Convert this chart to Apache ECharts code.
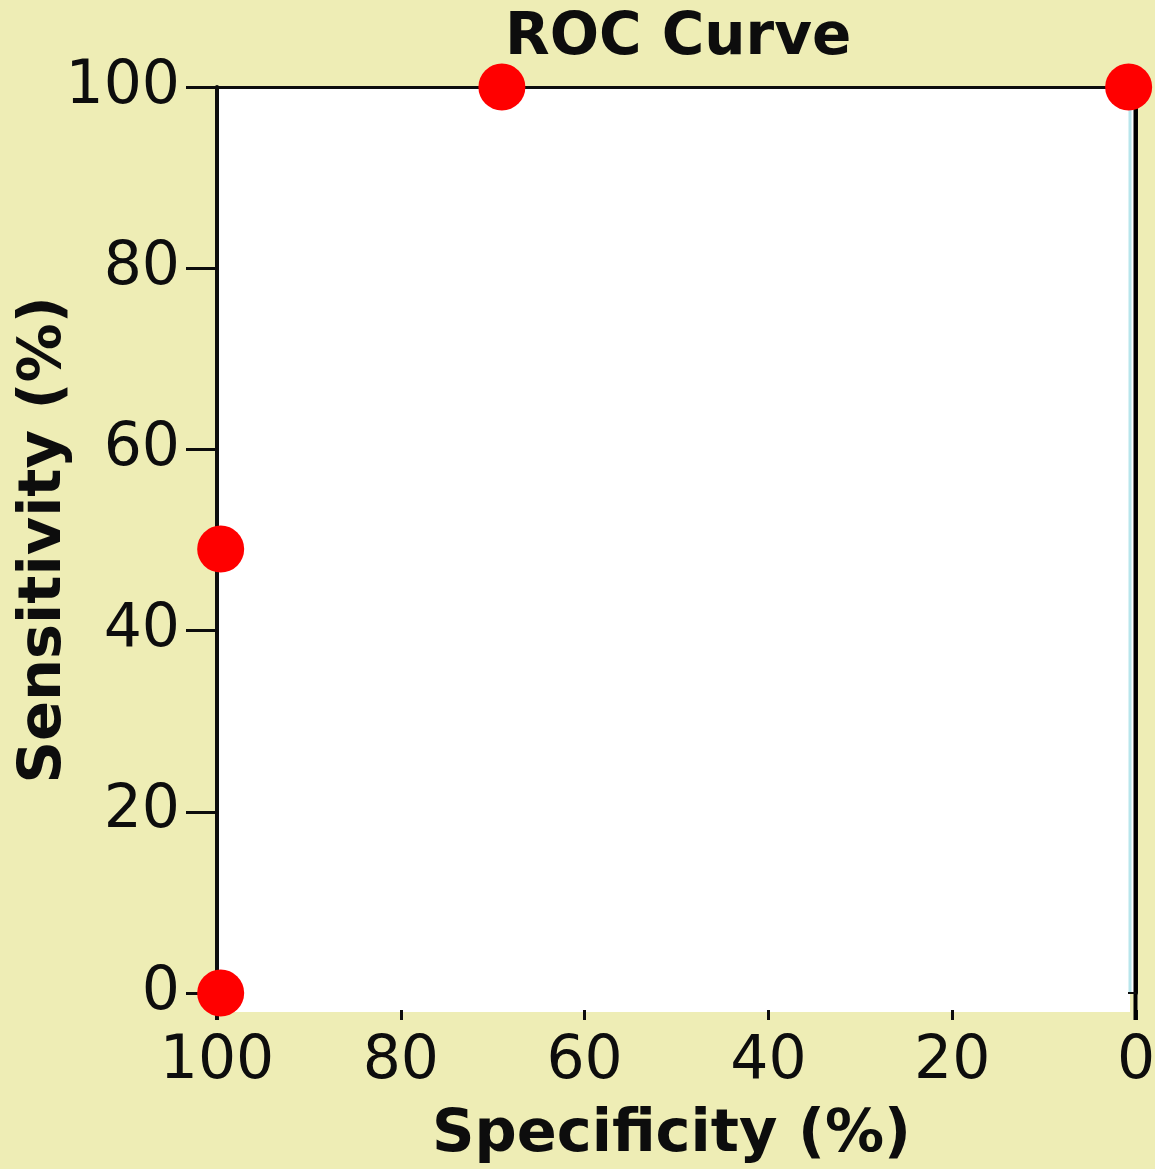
<!DOCTYPE html>
<html>
<head>
<meta charset="utf-8">
<title>ROC Curve</title>
<script src="https://cdn.jsdelivr.net/npm/echarts@6/dist/echarts.min.js"></script>
<style>
  html, body { margin: 0; padding: 0; background: #EEEDB5; }
  #chart { width: 1155px; height: 1169px; }
</style>
</head>
<body>
<div id="chart"></div>
<script>
// ROC operating points: specificity (%) vs sensitivity (%)
const specificity = [99.6, 99.6, 69, 0.8];
const sensitivity = [0, 49, 100, 100];
const axisTicks = [0, 20, 40, 60, 80, 100];

const points = specificity.map((s, i) => [s, sensitivity[i]]);

const ink = '#0d0d0d';
const labelFont = { fontFamily: 'DejaVu Sans', fontSize: 60, color: ink };
const titleFont = { fontFamily: 'DejaVu Sans', fontWeight: 'bold', fontSize: 58, color: ink };
const axisTitleFont = { fontFamily: 'DejaVu Sans', fontWeight: 'bold', fontSize: 59, color: ink };

const chart = echarts.init(document.getElementById('chart'), null, { renderer: 'canvas' });

chart.setOption({
  backgroundColor: '#EEEDB5',
  animation: false,
  title: {
    text: 'ROC Curve',
    left: 500,
    top: 5,
    textStyle: titleFont
  },
  grid: {
    left: 217, right: 19, top: 87, bottom: 176,
    containLabel: false,
    outerBoundsMode: 'none',
    show: true, backgroundColor: '#ffffff', borderWidth: 0
  },
  xAxis: [
    {
      type: 'value', inverse: true, min: 0, max: 100, interval: 20,
      position: 'bottom', offset: 27,
      axisLine: { show: false, onZero: false },
      axisTick: { show: true, inside: true, length: 10, lineStyle: { color: ink, width: 3 } },
      axisLabel: Object.assign({ margin: 12, formatter: v => axisTicks.includes(v) ? String(v) : '' }, labelFont),
      splitLine: { show: false },
      name: 'Specificity (%)', nameLocation: 'middle', nameGap: 86,
      nameMoveOverlap: false,
      nameTextStyle: Object.assign({ padding: [0, 10, 0, 0] }, axisTitleFont)
    },
    {
      type: 'value', inverse: true, min: 0, max: 100, position: 'top',
      axisLine: { show: true, onZero: false, lineStyle: { color: ink, width: 3 } },
      axisTick: { show: false }, axisLabel: { show: false }, splitLine: { show: false }
    }
  ],
  yAxis: [
    {
      type: 'value', min: 0, max: 100, interval: 20, position: 'left',
      axisLine: { show: true, onZero: false, lineStyle: { color: ink, width: 4 } },
      axisTick: { show: true, inside: false, length: 31, lineStyle: { color: ink, width: 3 } },
      axisLabel: Object.assign({ margin: 37 }, labelFont),
      splitLine: { show: false },
      name: 'Sensitivity (%)', nameLocation: 'middle', nameGap: 143, nameRotate: 90,
      nameMoveOverlap: false,
      nameTextStyle: axisTitleFont
    },
    {
      type: 'value', min: 0, max: 100, position: 'right',
      axisLine: { show: true, onZero: false, lineStyle: { color: ink, width: 4 } },
      axisTick: { show: false }, axisLabel: { show: false }, splitLine: { show: false }
    }
  ],
  series: [
    {
      type: 'scatter',
      xAxisIndex: 0, yAxisIndex: 0,
      data: points,
      symbol: 'circle',
      symbolSize: 47,
      itemStyle: { color: '#FF0000', opacity: 1 },
      z: 60
    }
  ]
});

// Frame details: white panel strip below the plot, right rule, side rules down to the tick row
const corner0 = chart.convertToPixel({ xAxisIndex: 0, yAxisIndex: 0 }, [100, 0]);
const corner1 = chart.convertToPixel({ xAxisIndex: 0, yAxisIndex: 0 }, [0, 100]);
const xL = corner0[0], xR = corner1[0], yB = corner0[1], yT = corner1[1];
chart.setOption({
  graphic: [
    { type: 'rect', z: -1, silent: true,
      shape: { x: xL, y: yB - 1, width: xR - xL - 6, height: 20 },
      style: { fill: '#ffffff' } },
    { type: 'line', silent: true,
      shape: { x1: xL, y1: yB, x2: xL, y2: yB + 27 },
      style: { stroke: ink, lineWidth: 4 } },
    { type: 'line', silent: true, z: 5,
      shape: { x1: xR - 6, y1: yT + 22, x2: xR - 6, y2: yB },
      style: { stroke: '#B8E6EC', lineWidth: 3 } },
    // right rule sits above the axes but beneath the markers
    { type: 'line', silent: true, z: 50,
      shape: { x1: xR - 0.5, y1: yT, x2: xR - 0.5, y2: yB + 27 },
      style: { stroke: '#000000', lineWidth: 4 } },
    { type: 'line', silent: true, z: 50,
      shape: { x1: xR - 8, y1: yB, x2: xR, y2: yB },
      style: { stroke: ink, lineWidth: 2 } }
  ]
});
</script>
</body>
</html>
